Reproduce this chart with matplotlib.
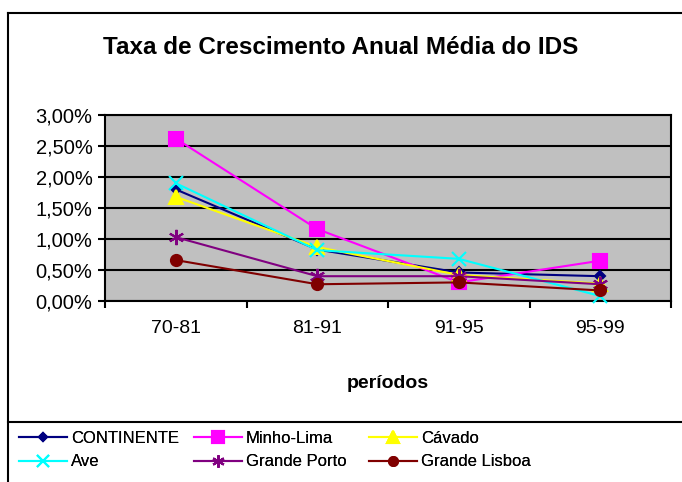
import matplotlib
matplotlib.use("Agg")
import matplotlib.pyplot as plt
from matplotlib.ticker import FuncFormatter
from matplotlib.lines import Line2D

periods = ["70-81", "81-91", "91-95", "95-99"]
continente = [1.80, 0.83, 0.46, 0.40]
minho_lima = [2.62, 1.16, 0.30, 0.65]
cavado = [1.68, 0.87, 0.42, 0.28]
ave = [1.90, 0.82, 0.68, 0.08]
grande_porto = [1.03, 0.40, 0.40, 0.27]
grande_lisboa = [0.66, 0.27, 0.30, 0.17]

plt.rcParams["font.family"] = ["Liberation Sans", "DejaVu Sans"]

fig = plt.figure(figsize=(6.82, 4.82), dpi=100)
fig.patch.set_facecolor("white")

# outer chart frame and legend separator (Excel style)
fig.add_artist(Line2D([8 / 682, 8 / 682], [0, 1 - 13 / 482], color="black", lw=1.5))
fig.add_artist(Line2D([8 / 682, 1], [1 - 13 / 482, 1 - 13 / 482], color="black", lw=1.5))
fig.add_artist(Line2D([8 / 682, 1], [1 - 422 / 482, 1 - 422 / 482], color="black", lw=1.5))

ax = fig.add_axes([105 / 682, 1 - 301 / 482, 566 / 682, 186 / 482])
ax.set_facecolor("#c0c0c0")

x = list(range(len(periods)))
series = [
    ("CONTINENTE", continente, "#000080", "D", 5),
    ("Minho-Lima", minho_lima, "#ff00ff", "s", 10),
    ("Cávado", cavado, "#ffff00", "^", 10),
    ("Ave", ave, "#00ffff", "x", 10),
    ("Grande Porto", grande_porto, "#800080", (6, 2, 0), 11),
    ("Grande Lisboa", grande_lisboa, "#800000", "o", 8),
]
handles = []
for name, vals, col, mk, ms in series:
    h, = ax.plot(x, vals, color=col, marker=mk, markersize=ms, lw=1.5,
                 markeredgewidth=1.5, label=name, zorder=3, clip_on=False)
    handles.append(h)

ax.set_xlim(-0.5, len(periods) - 0.5)
ax.set_ylim(0, 3.0)
ax.set_yticks([0, 0.5, 1.0, 1.5, 2.0, 2.5, 3.0])
ax.yaxis.set_major_formatter(FuncFormatter(lambda v, p: f"{v:.2f}%".replace(".", ",")))
ax.set_xticks(x)
ax.set_xticklabels(periods)
ax.set_xticks([i - 0.5 for i in range(len(periods) + 1)], minor=True)
ax.tick_params(axis="x", which="major", length=0, pad=14, labelsize=14)
ax.tick_params(axis="x", which="minor", length=5, width=1.5, direction="out")
ax.tick_params(axis="y", length=5, width=1.5, labelsize=14.5, pad=4)
ax.grid(axis="y", color="black", lw=1.5, zorder=1)
ax.set_axisbelow(True)
for s in ax.spines.values():
    s.set_linewidth(1.5)
    s.set_color("black")

fig.text(0.5, 1 - 48 / 482, "Taxa de Crescimento Anual Média do IDS",
         ha="center", va="center", fontsize=17.5, fontweight="bold")
fig.text(388 / 682, 1 - 383 / 482, "períodos", ha="center", va="center",
         fontsize=14, fontweight="bold")

# legend laid out row-wise like Excel: one small legend per column
col_x = [19, 194, 369]
for c in range(3):
    leg = fig.legend(handles=[handles[c], handles[c + 3]], loc="upper left",
                     bbox_to_anchor=(col_x[c] / 682, 1 - 431 / 482),
                     frameon=False, fontsize=12, handlelength=2.9,
                     handletextpad=0.2, markerscale=0.8, labelspacing=0.5,
                     borderpad=0, borderaxespad=0)
    fig.add_artist(leg)

fig.savefig("out.png", dpi=100)
